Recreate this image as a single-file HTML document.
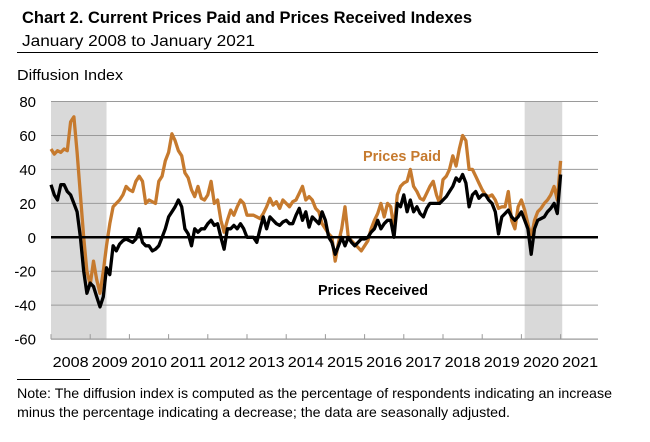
<!DOCTYPE html>
<html><head><meta charset="utf-8"><style>
html,body{margin:0;padding:0;background:#fff;}
svg{display:block;font-family:"Liberation Sans",sans-serif;}
</style></head><body>
<svg id="chart" width="650" height="442" viewBox="0 0 650 442">
<text x="22" y="23" font-size="17" font-weight="bold" textLength="450" lengthAdjust="spacingAndGlyphs">Chart 2. Current Prices Paid and Prices Received Indexes</text>
<text x="22" y="46" font-size="16" textLength="233" lengthAdjust="spacingAndGlyphs">January 2008 to January 2021</text>
<line x1="17" y1="52.5" x2="598" y2="52.5" stroke="#000" stroke-width="1"/>
<text x="17" y="80" font-size="15" textLength="106" lengthAdjust="spacingAndGlyphs">Diffusion Index</text>
<g id="shade"></g><g id="grid"></g><g id="ticks"></g><g id="series"></g>
<text x="363" y="161" font-size="15" font-weight="bold" fill="#C67A2E" textLength="78" lengthAdjust="spacingAndGlyphs">Prices Paid</text>
<text x="318" y="295" font-size="15" font-weight="bold" fill="#000" textLength="110" lengthAdjust="spacingAndGlyphs">Prices Received</text>
<line x1="17" y1="379.5" x2="90" y2="379.5" stroke="#000" stroke-width="1"/>
<text x="17" y="398" font-size="14" textLength="595" lengthAdjust="spacingAndGlyphs">Note: The diffusion index is computed as the percentage of respondents indicating an increase</text>
<text x="17" y="417" font-size="14" textLength="493" lengthAdjust="spacingAndGlyphs">minus the percentage indicating a decrease; the data are seasonally adjusted.</text>
</svg>
<script>
const yTicks=[80,60,40,20,0,-20,-40,-60];
const years=["2008","2009","2010","2011","2012","2013","2014","2015","2016","2017","2018","2019","2020","2021"];
const recessions=[[0,17],[145,156.5]];
const pricesPaid=[52,49,51,50,52,51,68,71,50,25,0,-20,
-28,-14,-25,-33,-20,-5,8,18,20,22,25,30,
28,27,33,36,33,20,22,21,20,33,36,45,
50,61,57,51,48,38,35,28,24,30,23,22,
25,33,20,22,10,3,10,16,13,18,22,20,
13,13,13,12,11,14,18,23,19,21,17,22,
20,18,21,22,26,30,22,24,22,17,15,8,
5,2,0,-14,-3,5,18,0,-2,-4,-6,-8,
-5,-2,5,10,14,20,12,20,18,5,25,30,
32,33,40,30,27,23,22,26,30,33,25,20,
34,36,40,48,42,52,60,57,40,40,36,32,
28,25,24,25,22,17,18,18,27,10,5,18,
22,16,8,0,10,15,17,20,22,25,30,22,45];
const pricesReceived=[31,25,22,31,31,27,25,20,15,0,-20,-33,
-27,-29,-35,-41,-35,-18,-22,-5,-8,-4,-2,-1,
-2,-3,-1,5,-3,-5,-5,-8,-7,-5,0,5,
12,15,18,22,18,5,2,-5,5,3,5,5,
8,10,7,8,0,-7,5,5,7,5,8,5,
0,0,0,-3,5,12,5,12,10,8,7,9,
10,8,8,13,17,10,15,6,12,10,8,15,
10,0,-3,-10,-5,0,-5,0,-3,-5,-3,-1,
-1,0,3,5,10,5,8,10,10,0,20,18,
25,15,22,15,18,14,12,17,20,20,20,20,
22,24,27,30,35,33,37,32,18,25,27,23,
25,25,22,20,15,2,12,14,16,12,10,12,
15,10,5,-10,5,10,11,12,15,17,20,14,37];
const NS="http://www.w3.org/2000/svg";
const L=51,R=598,monthW=39.2/12;
const x=i=>L+i*monthW;
const y=v=>237.3-(v)*(237.6/140);
function mk(tag,attrs,parent){const e=document.createElementNS(NS,tag);for(const k in attrs)e.setAttribute(k,attrs[k]);document.getElementById(parent).appendChild(e);return e;}
recessions.forEach(r=>{
 const e=mk('rect',{x:x(r[0]),y:y(80),width:x(r[1])-x(r[0]),height:y(-60)-y(80),fill:'#d9d9d9'},'shade');
 
 
});
yTicks.forEach(v=>{
 if(v!==0&&v!==-60){const g=mk('line',{x1:L,x2:R,y1:y(v),y2:y(v),stroke:'#9a9a9a','stroke-width':1},'grid');
 
 }
 const t=mk('text',{x:36,y:y(v)+5.5,'text-anchor':'end','font-size':15},'grid');
 t.textContent=v;
 
 
});
const ax=mk('line',{x1:L,x2:R,y1:y(-60),y2:y(-60),stroke:'#9a9a9a','stroke-width':1.2},'ticks');


years.forEach((yr,k)=>{
 const tx=x(k*12);
 const tk=mk('line',{x1:tx,x2:tx,y1:y(-60),y2:y(-60)-5,stroke:'#9a9a9a','stroke-width':1},'ticks');
 
 
 const t=mk('text',{x:tx+19.6,y:367,'text-anchor':'middle','font-size':15,textLength:36,lengthAdjust:'spacingAndGlyphs'},'ticks');
 t.textContent=yr;
 
 
});
function pts(a){return a.map((v,i)=>x(i).toFixed(1)+','+y(v).toFixed(1)).join(' ');}
const pp=mk('polyline',{points:pts(pricesPaid),fill:'none',stroke:'#C67A2E','stroke-width':3.3,'stroke-linejoin':'round'},'series');


const zl=mk('line',{x1:L,x2:R,y1:y(0),y2:y(0),stroke:'#000','stroke-width':2.5},'series');


const pr=mk('polyline',{points:pts(pricesReceived),fill:'none',stroke:'#000','stroke-width':3.3,'stroke-linejoin':'round'},'series');


</script>
</body></html>
